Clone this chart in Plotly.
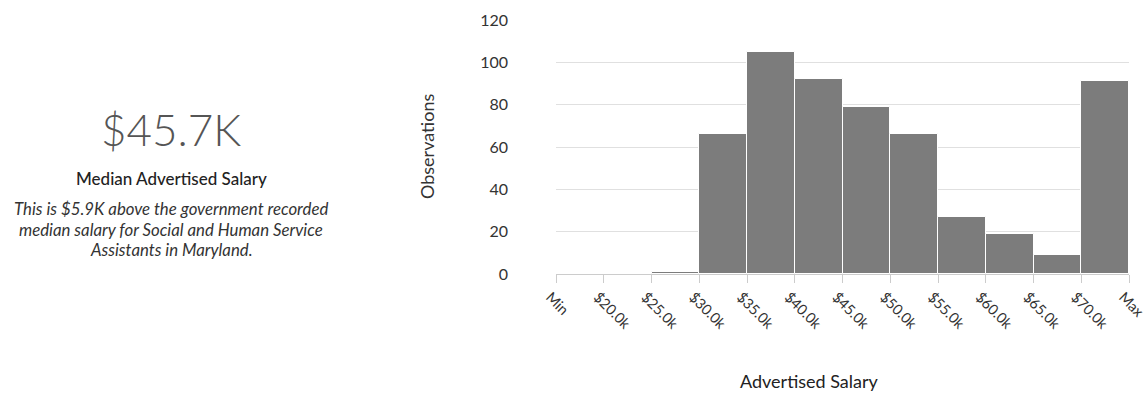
import plotly.graph_objects as go

# ---- data ----
bin_labels = ["Min", "$20.0k", "$25.0k", "$30.0k", "$35.0k", "$40.0k", "$45.0k",
              "$50.0k", "$55.0k", "$60.0k", "$65.0k", "$70.0k", "Max"]
observations = [0, 0, 1, 66, 105, 92, 79, 66, 27, 19, 9, 91]
y_ticks = [0, 20, 40, 60, 80, 100, 120]

headline = "$45.7K"
headline_caption = "Median Advertised Salary"
note_lines = ["This is $5.9K above the government recorded",
              "median salary for Social and Human Service",
              "Assistants in Maryland."]

# ---- layout geometry (pixels) ----
W, H = 1147, 395
PL, PR, PT, PB = 556, 1129, 20, 274          # plot area in pixels
L, T, R, B = PL, PT, W - PR, H - PB
pw, ph = PR - PL, PB - PT

def px(x):
    return (x - PL) / pw

def py(y):
    return (PB - y) / ph

FONT = "Lato, 'Open Sans', sans-serif"

x_centers = [i + 0.5 for i in range(len(observations))]

fig = go.Figure()
fig.add_trace(go.Bar(
    x=x_centers, y=observations, width=1,
    marker=dict(color="#7c7c7c", line=dict(color="white", width=1)),
    hoverinfo="y",
))

fig.update_layout(
    width=W, height=H,
    margin=dict(l=L, r=R, t=T, b=B),
    paper_bgcolor="white", plot_bgcolor="white",
    showlegend=False,
    font=dict(family=FONT, color="#333", size=14),
    bargap=0,
    xaxis=dict(
        range=[0, len(observations)],
        tickmode="array",
        tickvals=list(range(len(bin_labels))),
        ticktext=bin_labels,
        tickangle=45,
        ticks="outside", ticklen=8, tickcolor="#cccccc",
        showline=True, linecolor="#cccccc", linewidth=1,
        showgrid=False, zeroline=False,
        tickfont=dict(size=14.5, color="#333"),
        ticklabeloverflow="allow",
        ticklabelshift=-6,
        automargin=False,
        fixedrange=True,
    ),
    yaxis=dict(
        range=[0, 120],
        tickmode="array", tickvals=y_ticks,
        showgrid=True, gridcolor="#e0e0e0", gridwidth=1,
        zeroline=False, showline=False,
        ticklabelstandoff=47,
        tickfont=dict(size=16, color="#333"),
        automargin=False,
        fixedrange=True,
    ),
)

ann = []
ann.append(dict(text="Observations", x=px(427), y=py(147), xref="paper", yref="paper",
                showarrow=False, textangle=-90, font=dict(size=18, color="#333"),
                xanchor="center", yanchor="middle"))
ann.append(dict(text="Advertised Salary", x=px(809), y=py(381), xref="paper", yref="paper",
                showarrow=False, font=dict(size=18, color="#222"),
                xanchor="center", yanchor="middle"))
ann.append(dict(text=headline, x=px(171), y=py(129), xref="paper", yref="paper",
                showarrow=False, font=dict(size=44, color="#555", weight=300),
                xanchor="center", yanchor="middle"))
ann.append(dict(text=headline_caption, x=px(171), y=py(178), xref="paper", yref="paper",
                showarrow=False, font=dict(size=17, color="#222", weight=500),
                xanchor="center", yanchor="middle"))
for i, (line, yy) in enumerate(zip(note_lines, [208, 229, 249])):
    ann.append(dict(text="<i>" + line + "</i>", x=px(171), y=py(yy),
                    xref="paper", yref="paper", showarrow=False,
                    font=dict(size=16.8, color="#333"),
                    xanchor="center", yanchor="middle"))
fig.update_layout(annotations=ann)

fig.write_html("out.html",
               config={"displayModeBar": False},
               post_script="document.body.style.margin='0';document.body.style.overflow='hidden';")
